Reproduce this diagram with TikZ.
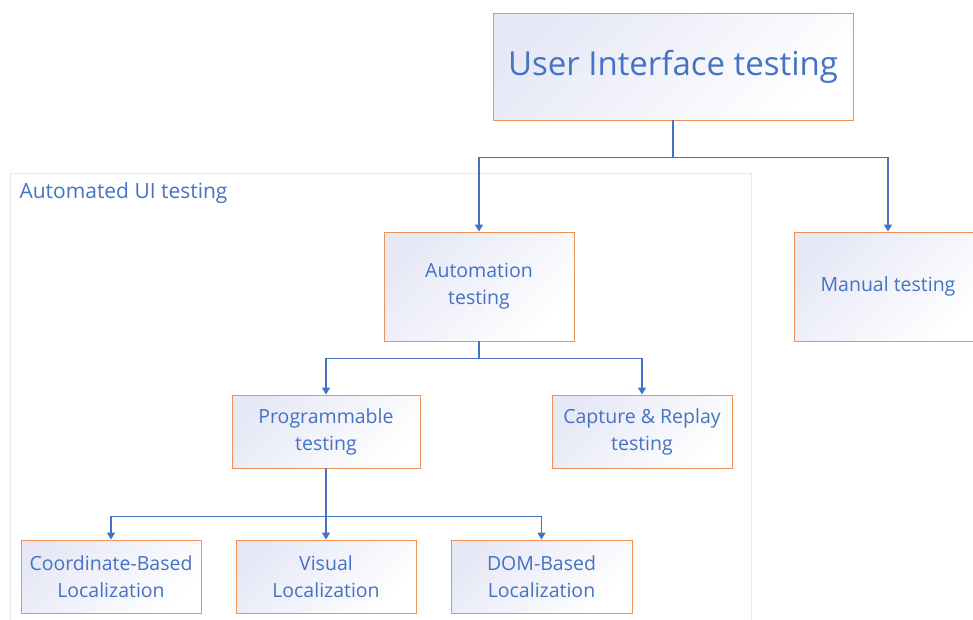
\documentclass[tikz,border=0pt]{standalone}
\usepackage{fontspec}
\setmainfont{Open Sans}
\usetikzlibrary{arrows.meta}
\definecolor{uiblue}{RGB}{68,114,196}
\definecolor{uiorange}{RGB}{240,145,85}
\definecolor{uilav}{RGB}{230,232,246}
\definecolor{uigrey}{RGB}{232,233,238}

\begin{document}
\begin{tikzpicture}[x=1pt,y=-1pt,
    box/.style={draw=uiorange,line width=0.9pt,top color=uilav,bottom color=white,shading angle=45,
      text=uiblue,align=center,inner sep=0pt,font=\fontsize{19.5}{27}\selectfont},
    link/.style={uiblue,line width=1.3pt,-{Triangle[width=8pt,length=7pt]}}]
            \useasboundingbox (0,0) rectangle (973,619);
            % outer frame of the automated part
            \draw[uigrey,line width=0.8pt] (10,640) |- (751,173) -- (751,640);
            \node[text=uiblue,anchor=base west,font=\fontsize{21}{24}\selectfont] (frame) at (16,198) {Automated UI testing};
            \node[box,minimum width=360,minimum height=107,font=\fontsize{33}{36}\selectfont] (ui) at (673,66.5) {User Interface testing};
            \node[box,minimum width=190,minimum height=109] (auto) at (479,286.5) {Automation\\testing};
            \node[box,minimum width=188,minimum height=109] (manual) at (888,286.5) {Manual testing};
            \node[box,minimum width=188,minimum height=73] (prog) at (326,431.5) {Programmable\\testing};
            \node[box,minimum width=180,minimum height=73] (capture) at (642,431.5) {Capture \& Replay\\testing};
            \node[box,minimum width=180,minimum height=73] (coord) at (111,576.5) {Coordinate-Based\\Localization};
            \node[box,minimum width=180,minimum height=73] (visual) at (326,576.5) {Visual\\Localization};
            \node[box,minimum width=181,minimum height=73] (dom) at (541.5,576.5) {DOM-Based\\Localization};
            % connectors
            \draw[link] (ui.south) -- ++(0,37) -| (auto.north);
            \draw[link] (ui.south) -- ++(0,37) -| (manual.north);
            \draw[link] (auto.south) -- ++(0,17) -| (prog.north);
            \draw[link] (auto.south) -- ++(0,17) -| (capture.north);
            \draw[link] (prog.south) -- ++(0,48) -| (coord.north);
            \draw[link] (prog.south) -- (visual.north);
            \draw[link] (prog.south) -- ++(0,48) -| (dom.north);
        \end{tikzpicture}
\end{document}
